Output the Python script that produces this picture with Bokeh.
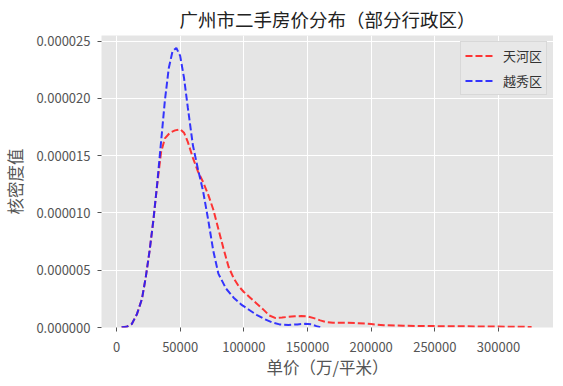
from bokeh.plotting import figure
from bokeh.models import ColumnDataSource, FixedTicker, PrintfTickFormatter, Range1d, Legend, LegendItem
from bokeh.embed import file_html
from bokeh.resources import INLINE

# ---- data ----
title_text = "广州市二手房价分布（部分行政区）"
x_label = "单价（万/平米）"
y_label = "核密度值"
series_names = ["天河区", "越秀区"]

tianhe_x = [4000, 8000, 12000, 16000, 20000, 23000, 26000, 29000, 32000, 35000, 38000, 42000,
            46000, 50000, 53000, 56000, 60000, 64000, 68000, 72000, 76000, 80000, 84000, 88000,
            92000, 96000, 100000, 105000, 110000, 115000, 120000, 125000, 130000, 135000, 140000,
            145000, 150000, 155000, 160000, 165000, 170000, 180000, 190000, 200000, 210000,
            225000, 250000, 275000, 300000, 326000]
tianhe_y = [0.02e-6, 0.06e-6, 0.3e-6, 1.15e-6, 2.5e-6, 4.4e-6, 6.7e-6, 9.4e-6, 12.5e-6, 15.3e-6,
            16.5e-6, 17.0e-6, 17.2e-6, 17.3e-6, 17.0e-6, 16.2e-6, 14.8e-6, 13.6e-6, 12.7e-6,
            11.6e-6, 10.3e-6, 8.6e-6, 6.9e-6, 5.3e-6, 4.3e-6, 3.6e-6, 3.1e-6, 2.6e-6, 2.1e-6,
            1.6e-6, 1.05e-6, 0.82e-6, 0.87e-6, 0.93e-6, 0.98e-6, 1.0e-6, 0.97e-6, 0.82e-6,
            0.62e-6, 0.46e-6, 0.41e-6, 0.41e-6, 0.38e-6, 0.3e-6, 0.2e-6, 0.15e-6, 0.12e-6,
            0.1e-6, 0.08e-6, 0.05e-6]

yuexiu_x = [4000, 8000, 12000, 16000, 20000, 23000, 26000, 29000, 32000, 35000, 38000, 41000,
            44000, 47000, 50000, 53000, 56000, 60000, 64000, 68000, 72000, 76000, 80000, 86000,
            92000, 98000, 104000, 110000, 116000, 122000, 128000, 135000, 142000, 148000, 153000,
            157000, 160000]
yuexiu_y = [0.02e-6, 0.06e-6, 0.3e-6, 1.15e-6, 2.5e-6, 4.4e-6, 6.7e-6, 9.4e-6, 12.6e-6, 16.2e-6,
            19.8e-6, 22.6e-6, 24.1e-6, 24.4e-6, 23.7e-6, 21.8e-6, 19.2e-6, 15.9e-6, 13.8e-6,
            11.9e-6, 9.4e-6, 6.7e-6, 4.7e-6, 3.4e-6, 2.6e-6, 2.0e-6, 1.55e-6, 1.1e-6, 0.75e-6,
            0.45e-6, 0.27e-6, 0.22e-6, 0.27e-6, 0.32e-6, 0.28e-6, 0.12e-6, 0.02e-6]

x_ticks = [0, 50000, 100000, 150000, 200000, 250000, 300000]
y_ticks = [0.0, 0.000005, 0.00001, 0.000015, 0.00002, 0.000025]

colors = ["#ff2020", "#2020ff"]

FONT = "Noto Sans CJK SC"

p = figure(frame_width=452, frame_height=292, output_backend="svg", toolbar_location=None,
           x_range=Range1d(-11780, 343200), y_range=Range1d(0, 2.548e-5))
p.min_border_left = 95
p.min_border_right = 0
p.min_border_top = 24
p.min_border_bottom = 48

p.background_fill_color = "#e5e5e5"
p.border_fill_color = "white"
p.outline_line_color = None

p.title.text = title_text
p.title.align = "center"
p.title.text_font = FONT
p.title.text_font_size = "18.5px"
p.title.text_font_style = "normal"
p.title.text_color = "#222222"
p.title.standoff = 7

src_t = ColumnDataSource(dict(x=tianhe_x, y=tianhe_y))
src_y = ColumnDataSource(dict(x=yuexiu_x, y=yuexiu_y))
r1 = p.line("x", "y", source=src_t, line_color=colors[0], line_width=2, line_dash="7 3", line_alpha=0.9)
r2 = p.line("x", "y", source=src_y, line_color=colors[1], line_width=2, line_dash="7 3", line_alpha=0.9)

for ax in [p.xaxis[0], p.yaxis[0]]:
    ax.axis_line_color = None
    ax.major_tick_line_color = "#555555"
    ax.major_tick_out = 4
    ax.major_tick_in = 0
    ax.minor_tick_line_color = None
    ax.major_label_text_font = FONT
    ax.major_label_text_font_size = "13px"
    ax.major_label_text_color = "#555555"
    ax.axis_label_text_font = FONT
    ax.axis_label_text_font_size = "16.5px"
    ax.axis_label_text_font_style = "normal"
    ax.axis_label_text_color = "#555555"

p.xaxis.ticker = FixedTicker(ticks=x_ticks)
p.yaxis.ticker = FixedTicker(ticks=y_ticks)
p.yaxis.formatter = PrintfTickFormatter(format="%.6f")
p.xaxis.formatter = PrintfTickFormatter(format="%d")
p.xaxis.axis_label = x_label
p.yaxis.axis_label = y_label
p.xaxis.major_label_standoff = 10
p.yaxis.major_label_standoff = 7
p.xaxis.axis_label_standoff = 0
p.yaxis.axis_label_standoff = 6

p.xgrid.grid_line_color = "white"
p.ygrid.grid_line_color = "white"
p.xgrid.grid_line_width = 1
p.ygrid.grid_line_width = 1

legend = Legend(items=[LegendItem(label=series_names[0], renderers=[r1]),
                       LegendItem(label=series_names[1], renderers=[r2])],
                location="top_right")
legend.label_text_font = FONT
legend.label_text_font_size = "13px"
legend.label_text_color = "#333333"
legend.background_fill_color = "#e8e8e8"
legend.background_fill_alpha = 1
legend.border_line_color = "#d8d8d8"
legend.border_line_alpha = 1
legend.glyph_width = 28
legend.glyph_height = 17
legend.spacing = 6
legend.padding = 4
legend.margin = 6
legend.label_standoff = 10
p.add_layout(legend)

open("out.html", "w").write(file_html(p, INLINE))
